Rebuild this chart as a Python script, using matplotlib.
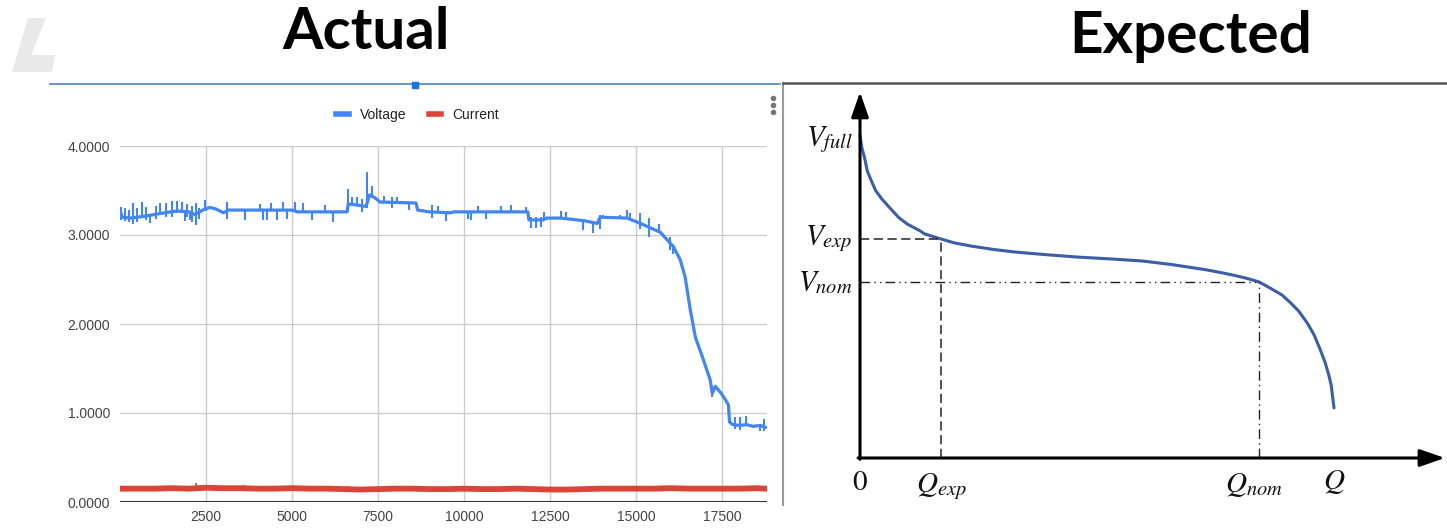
import numpy as np
import matplotlib
matplotlib.use("Agg")
import matplotlib.pyplot as plt
from matplotlib.lines import Line2D
from matplotlib.patches import Polygon

plt.rcParams.update({
    "font.family": "Liberation Sans", "font.size": 10,
    "mathtext.fontset": "stix",
    "figure.facecolor": "white", "axes.facecolor": "white",
})

W, H = 1447, 529
BLUE = "#4285f4"; RED = "#db4437"; GRID = "#cccccc"; TICK = "#444444"
CURVE = "#3b5ea6"

# ---- left chart: logged voltage / current ----
volt_x = [0, 60, 300, 700, 1000, 1300, 1650, 2000, 2180, 2400, 2620, 2800, 3000, 3150,
          5000, 5150, 6600, 6630, 7000, 7150, 7250, 7400, 7560, 8600, 8650, 8980, 9600,
          9700, 11850, 11880, 12300, 12400, 12800, 13500, 13870, 13950, 14740, 15120,
          15700, 16080, 16280, 16420, 16570, 16720, 16950, 17150, 17210, 17300, 17450,
          17590, 17680, 17710, 17800, 18000, 18200, 18400, 18600, 18750]
volt_v = [3.28, 3.20, 3.19, 3.21, 3.23, 3.25, 3.27, 3.26, 3.23, 3.28, 3.31, 3.29, 3.25, 3.28,
          3.28, 3.26, 3.26, 3.35, 3.33, 3.32, 3.45, 3.42, 3.37, 3.36, 3.28, 3.26, 3.25,
          3.26, 3.26, 3.17, 3.17, 3.19, 3.19, 3.16, 3.13, 3.20, 3.19, 3.13,
          3.03, 2.87, 2.72, 2.53, 2.16, 1.85, 1.60, 1.37, 1.22, 1.30, 1.23,
          1.15, 1.09, 0.90, 0.87, 0.86, 0.87, 0.85, 0.86, 0.84]

# short spikes on the voltage trace: x, low, high
spike_x = [40, 150, 250, 388, 500, 630, 760, 872, 1050, 1163, 1350, 1500, 1650, 1800, 1890,
           1950, 2035, 2100, 2210, 2300, 2470, 3100, 3630,
           4070, 4160, 4260, 4400, 4550, 4750, 4840, 5090, 5330, 5570, 5960, 6200, 6630,
           6730, 6880, 7030, 7180, 7330, 7670, 7910, 8060, 8400, 9080, 9230, 9470, 10100,
           10200, 10390, 10630, 11070, 11360, 11800, 11940, 12090, 12230, 12330, 12810,
           12960, 13460, 13750, 13950, 14040, 14530, 14720, 14820, 15120, 15360, 15650,
           15990, 16080, 17210, 17880, 18020, 18190, 18600, 18700]
spike_lo = [3.17, 3.16, 3.15, 3.12, 3.15, 3.19, 3.17, 3.14, 3.18, 3.22, 3.20, 3.20, 3.25, 3.25, 3.16,
            3.20, 3.17, 3.15, 3.11, 3.18, 3.27, 3.18, 3.17,
            3.28, 3.17, 3.17, 3.28, 3.17, 3.28, 3.18, 3.27, 3.26, 3.17, 3.26, 3.15, 3.26,
            3.34, 3.33, 3.26, 3.30, 3.42, 3.37, 3.30, 3.36, 3.28, 3.19, 3.26, 3.16, 3.18,
            3.17, 3.26, 3.18, 3.26, 3.26, 3.26, 3.08, 3.08, 3.09, 3.17, 3.19,
            3.19, 3.06, 3.02, 3.07, 3.19, 3.19, 3.19, 3.18, 3.07, 2.98, 3.04,
            2.83, 2.79, 1.18, 0.82, 0.81, 0.86, 0.80, 0.80]
spike_hi = [3.31, 3.30, 3.28, 3.36, 3.30, 3.37, 3.32, 3.22, 3.33, 3.36, 3.36, 3.38, 3.38, 3.37, 3.27,
            3.35, 3.26, 3.33, 3.36, 3.30, 3.39, 3.37, 3.28,
            3.35, 3.28, 3.28, 3.36, 3.28, 3.37, 3.28, 3.37, 3.36, 3.26, 3.34, 3.26, 3.52,
            3.43, 3.43, 3.41, 3.71, 3.55, 3.44, 3.43, 3.43, 3.36, 3.34, 3.33, 3.26, 3.26,
            3.26, 3.33, 3.26, 3.33, 3.34, 3.31, 3.20, 3.20, 3.20, 3.26, 3.27,
            3.26, 3.16, 3.14, 3.22, 3.22, 3.23, 3.28, 3.25, 3.25, 3.19, 3.12,
            2.98, 2.88, 1.30, 0.95, 0.96, 0.97, 0.87, 0.93]

current_x = list(range(0, 18501, 500)) + [18750]
current_v = [0.15, 0.15, 0.15, 0.155, 0.15, 0.16, 0.155, 0.155, 0.15, 0.15,
             0.155, 0.15, 0.15, 0.145, 0.14, 0.145, 0.15, 0.15, 0.145, 0.145,
             0.15, 0.145, 0.145, 0.15, 0.145, 0.14, 0.14, 0.145, 0.15, 0.15,
             0.15, 0.15, 0.155, 0.15, 0.15, 0.15, 0.15, 0.155, 0.15]
cur_spike_x = [2200, 3600, 6600]
cur_spike_lo = [0.12, 0.12, 0.12]
cur_spike_hi = [0.21, 0.19, 0.18]

y_ticks = [0, 1, 2, 3, 4]
x_ticks = [2500, 5000, 7500, 10000, 12500, 15000, 17500]

# ---- right diagram: idealised discharge curve (Q normalised to 1, V_full = 1) ----
q_curve = [0.0, 0.0036, 0.011, 0.015, 0.024, 0.033, 0.046, 0.065, 0.082, 0.10, 0.127,
           0.136, 0.171, 0.199, 0.235, 0.28, 0.325, 0.388, 0.46, 0.532, 0.595, 0.657,
           0.729, 0.765, 0.791, 0.819, 0.842, 0.863, 0.89, 0.908, 0.926, 0.944, 0.958,
           0.97, 0.981, 0.989, 0.994, 1.0]
v_curve = [1.0, 0.963, 0.921, 0.89, 0.858, 0.828, 0.802, 0.771, 0.744, 0.724, 0.703,
           0.694, 0.678, 0.666, 0.656, 0.646, 0.638, 0.630, 0.622, 0.616, 0.61, 0.599,
           0.583, 0.573, 0.565, 0.555, 0.545, 0.528, 0.505, 0.481, 0.454, 0.417, 0.381,
           0.339, 0.297, 0.257, 0.226, 0.155]
q_exp, v_exp = 0.171, 0.678
q_nom, v_nom = 0.842, 0.545


def fx(px):
    return px / W


def fy(py):
    return 1 - py / H


fig = plt.figure(figsize=(W / 100, H / 100), dpi=100)

# background overlay in pixel units for panel decorations
bg = fig.add_axes([0, 0, 1, 1])
bg.set_xlim(0, W); bg.set_ylim(H, 0); bg.axis("off")
bg.add_patch(Polygon([(12, 72), (28, 18), (46, 18), (31, 55), (55, 55), (52, 72)],
                     closed=True, color="#e9e9e9", lw=0))
bg.plot([50, 780], [84, 84], color="#5b8fc9", lw=1.3)
bg.plot([415], [85], marker="s", ms=4.5, color="#1a73e8")
bg.plot([783, 783], [83, 505], color="#9a9a9a", lw=1.5)
bg.plot([783, W], [83, 83], color="#555555", lw=1.8)
bg.plot([773, 773, 773], [98, 105, 112], "o", ms=3, color="#777777")
bg.text(366, 49, "Actual", ha="center", va="baseline", fontsize=42,
        fontweight="bold", family="Lato")
bg.text(1191, 53, "Expected", ha="center", va="baseline", fontsize=42,
        fontweight="bold", family="Lato")

# left: line chart
ax = fig.add_axes([fx(120), fy(502), fx(767) - fx(120), fy(146) - fy(502)])
ax.plot(current_x, current_v, color=RED, lw=4.2, solid_joinstyle="round", zorder=3)
ax.vlines(cur_spike_x, cur_spike_lo, cur_spike_hi, color=RED, lw=1.2, zorder=3)
ax.plot(volt_x, volt_v, color=BLUE, lw=2.3, solid_joinstyle="round", zorder=4)
ax.vlines(spike_x, spike_lo, spike_hi, color=BLUE, lw=1.5, zorder=4)
ax.set_xlim(0, 18800)
ax.set_ylim(0, 4)
ax.set_yticks(y_ticks)
ax.set_yticklabels([f"{t:.4f}" for t in y_ticks])
ax.set_xticks(x_ticks)
ax.grid(True, color=GRID, lw=1)
ax.axhline(0, color="#333333", lw=1.5, zorder=5)
for s in ax.spines.values():
    s.set_visible(False)
ax.tick_params(length=0, colors=TICK, labelsize=10)
ax.tick_params(axis="y", pad=7)
ax.tick_params(axis="x", pad=6)
handles = [Line2D([0], [0], color=BLUE, lw=4), Line2D([0], [0], color=RED, lw=4)]
ax.legend(handles, ["Voltage", "Current"], loc="center", bbox_to_anchor=(0.46, 1.087),
          ncol=2, frameon=False, handlelength=0.9, columnspacing=1.6, fontsize=10,
          labelcolor="#222222")

# right: textbook discharge curve
q_max = (W - 860) / 474
v_max = (458 - 83) / 323
ax2 = fig.add_axes([fx(860), fy(458), fx(W) - fx(860), fy(83) - fy(458)])
ax2.set_xlim(0, q_max); ax2.set_ylim(0, v_max); ax2.axis("off")
ax2.plot(q_curve, v_curve, color=CURVE, lw=2.2, solid_capstyle="round",
         solid_joinstyle="round", clip_on=False)
ax2.plot([0, q_exp], [v_exp, v_exp], color="#222222", lw=1.1, ls=(0, (6, 3)))
ax2.plot([q_exp, q_exp], [0, v_exp], color="#222222", lw=1.1, ls=(0, (6, 3)))
ax2.plot([0, q_nom], [v_nom, v_nom], color="#222222", lw=1.0, ls=(0, (7, 3, 1, 3, 1, 3)))
ax2.plot([q_nom, q_nom], [0, v_nom], color="#222222", lw=1.0, ls=(0, (7, 3, 1, 3)))
arrow = dict(arrowstyle="-|>,head_width=0.33,head_length=0.95", lw=2.2, color="black",
             mutation_scale=16, shrinkA=0, shrinkB=0)
ax2.annotate("", xy=(1.234, 0), xytext=(-0.004, 0), arrowprops=arrow, annotation_clip=False)
ax2.annotate("", xy=(0, 1.133), xytext=(0, -0.004), arrowprops=arrow, annotation_clip=False)

lab = dict(fontsize=21, color="#111111")
ax2.text(-0.015, 0.985, r"$V_{full}$", ha="right", va="center", **lab)
ax2.text(-0.015, v_exp, r"$V_{exp}$", ha="right", va="center", **lab)
ax2.text(-0.015, v_nom, r"$V_{nom}$", ha="right", va="center", **lab)
ax2.text(0, -0.03, r"$0$", ha="center", va="top", **lab)
ax2.text(q_exp, -0.04, r"$Q_{exp}$", ha="center", va="top", **lab)
ax2.text(q_nom - 0.01, -0.04, r"$Q_{nom}$", ha="center", va="top", **lab)
ax2.text(1.0, -0.03, r"$Q$", ha="center", va="top", **lab)

fig.savefig("out.png", dpi=100)
